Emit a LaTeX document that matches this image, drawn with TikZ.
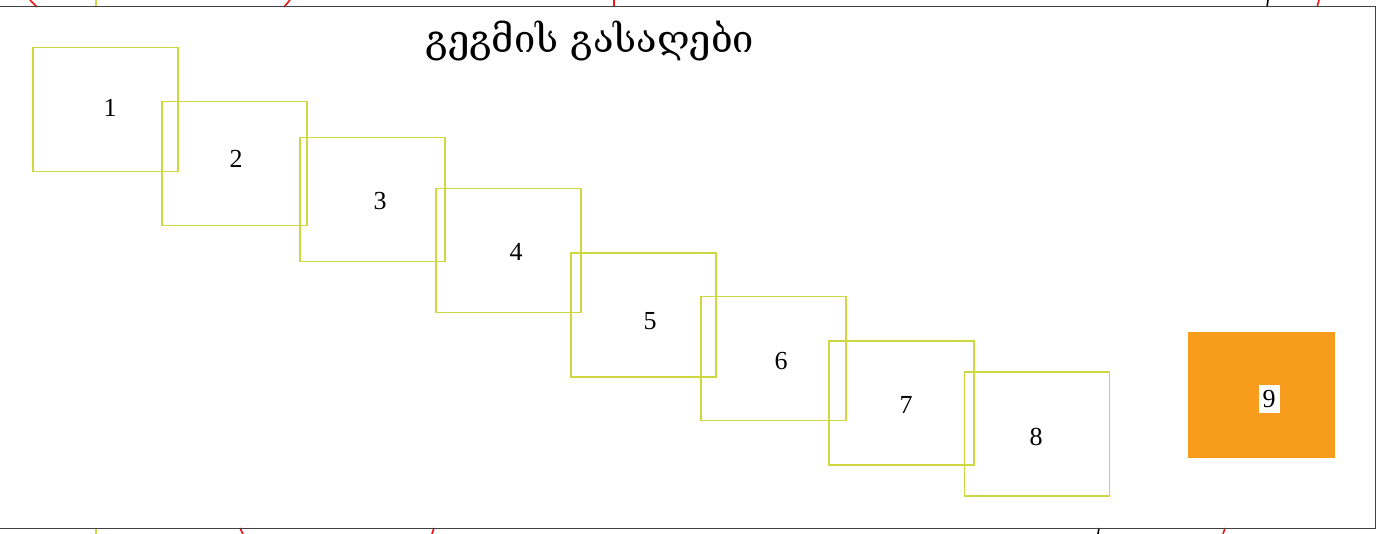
\documentclass[tikz,border=0pt]{standalone}
\usepackage{fontspec}
\setmainfont{Liberation Serif}
\newfontfamily\geofont[Script=Georgian]{DejaVu Serif}
\definecolor{boxline}{RGB}{206,214,64}
\definecolor{boxorange}{RGB}{248,156,30}
\definecolor{stubred}{RGB}{240,20,20}
\begin{document}
\begin{tikzpicture}[x=1pt,y=-1pt,
  keybox/.style={draw=boxline,line width=1.8pt,minimum width=145pt,minimum height=124pt,inner sep=0pt},
  orangebox/.style={fill=boxorange,minimum width=147pt,minimum height=126pt,inner sep=0pt},
  num/.style={font=\fontsize{26}{28}\selectfont},
  stub/.style={line width=1.6pt}]
\useasboundingbox (0,0) rectangle (1382,534);
% stubs outside the frame
\draw[stub,stubred] (30,0) -- (37,7);
\draw[stub,boxline] (96,0) -- (96,7);
\draw[stub,stubred] (290,0) -- (284,7);
\draw[stub,stubred] (614,0) -- (614,7);
\draw[stub,black] (1268,0) -- (1267,7);
\draw[stub,stubred] (1319,0) -- (1317,7);
\draw[stub,boxline] (96,528) -- (96,534);
\draw[stub,stubred] (240,528) -- (243,534);
\draw[stub,stubred] (434,528) -- (432,534);
\draw[stub,black] (1099,528) -- (1098,534);
\draw[stub,stubred] (1225,528) -- (1223,534);
% frame
\draw[line width=1pt,black!75] (-2,7) rectangle (1375,528);
% title
\node[font=\geofont\fontsize{38}{42}\selectfont] (title) at (590,41) {გეგმის გასაღები};
% boxes
\node[keybox] (b1) at (105.5,109.5) {};
\node[keybox] (b2) at (234.5,163.5) {};
\node[keybox] (b3) at (372.5,199.5) {};
\node[keybox] (b4) at (508.5,250.5) {};
\node[keybox] (b5) at (643.5,315) {};
\node[keybox] (b6) at (773.5,358.5) {};
\node[keybox] (b7) at (901.5,403) {};
\node[keybox] (b8) at (1037,434) {};
\node[num] (l1) at ([shift={(4.5,-1.5)}]b1.center) {1};
\node[num] (l2) at ([shift={(1.5,-4.5)}]b2.center) {2};
\node[num] (l3) at ([shift={(7.5,1.5)}]b3.center) {3};
\node[num] (l4) at ([shift={(7.5,1.5)}]b4.center) {4};
\node[num] (l5) at ([shift={(6.5,6)}]b5.center) {5};
\node[num] (l6) at ([shift={(7.5,2.5)}]b6.center) {6};
\node[num] (l7) at ([shift={(4.5,2)}]b7.center) {7};
\node[num] (l8) at ([shift={(-1,3)}]b8.center) {8};
\node[orangebox] (b9) at (1261.5,395) {};
\node[num,fill=white,inner xsep=4pt,inner ysep=5pt] (l9) at ([shift={(7.5,4)}]b9.center) {9};
\end{tikzpicture}
\end{document}
